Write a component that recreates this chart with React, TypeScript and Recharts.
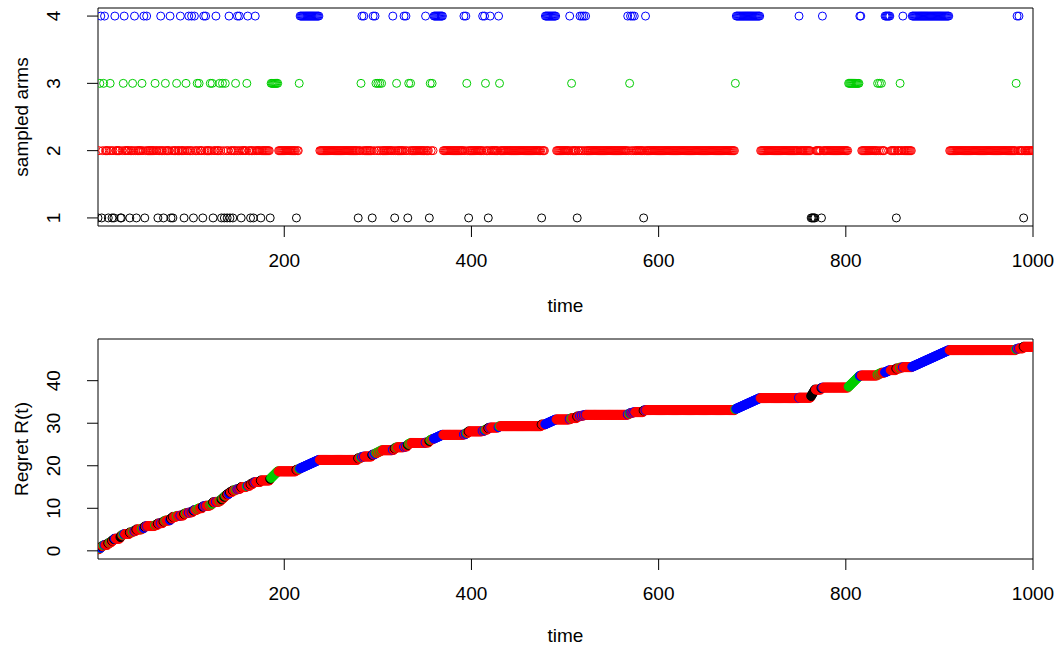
import { ReferenceArea, Scatter, ScatterChart, XAxis, YAxis } from 'recharts';

type Pull = number | [number, number];

const T_MAX = 1000;
const TIME_TICKS = [200, 400, 600, 800, 1000];
const ARM_TICKS = [1, 2, 3, 4];
const REGRET_TICKS = [0, 10, 20, 30, 40];

// R palette: black, red, green3, blue
const ARM_COLORS = ['#000000', '#ff0000', '#00cd00', '#0000ff'];
const ARM_GAP = [0.38, 0, 0.22, 0.1];

// times at which arms 1, 3 and 4 were pulled: single t or [from, to]. arm 2 gets the rest
const ARM1_PULLS: Pull[] = [
  1, 5, 12, 16, 18, 25, 26, 35, 42, 51, 65, 71, 79, 81, 93, 103, 113, 124,
  133, 136, 139, 142, 145, 154, 164, 167, 175, 185, 213,
  279, 294, 318, 332, 355, 397, 418, 475, 513, 584, [763, 767], 774, 854, 990,
];
const ARM3_PULLS: Pull[] = [
  3, 7, 14, 28, 38, 48, 62, 73, 85, 95, 107, 109, 121, 123, 131, 134, 137, 148, 160,
  [186, 193], 216, 282, 298, 300, 302, 304, 320, 333, 335, 356, 358, 395, 415, 430,
  507, 569, 682, [803, 814], 834, 836, 838, 858, 982,
];
const ARM4_PULLS: Pull[] = [
  4, 8, 19, 29, 40, 50, 53, 68, 78, 89, 98, 101, 104, 114, 116, 127, 141, 150, 152, 161, 169,
  [217, 237], 283, 285, 295, 297, 316, 328, 330, 351, [360, 369], 392, 394, 412, 414, 420, 429,
  [479, 490], 505, 516, 518, 520, 522, 567, 570, 572, 574, 586, [683, 708], 750, 775,
  815, 816, [842, 847], 861, [871, 910], 983, 985,
];

const FONT = '"Liberation Sans", Arial, sans-serif';
const FS = 19;

function buildPoints() {
  const arms: number[] = new Array(T_MAX + 1).fill(2);
  const lists: [number, Pull[]][] = [
    [1, ARM1_PULLS],
    [3, ARM3_PULLS],
    [4, ARM4_PULLS],
  ];
  for (const [arm, pulls] of lists) {
    for (const p of pulls) {
      const [a, b] = Array.isArray(p) ? p : [p, p];
      for (let t = a; t <= b; t++) arms[t] = arm;
    }
  }
  let regret = 0;
  const pts = [];
  for (let t = 1; t <= T_MAX; t++) {
    const arm = arms[t];
    regret += ARM_GAP[arm - 1];
    pts.push({ t, arm, regret, color: ARM_COLORS[arm - 1] });
  }
  return pts;
}

const points = buildPoints();

const XTick = (props: any) => {
  const { x, y, payload } = props;
  return (
    <text x={x} y={y + 21.5} textAnchor="middle" dominantBaseline="central"
      fontFamily={FONT} fontSize={FS} fill="#000">
      {payload.value}
    </text>
  );
};

const YTick = (props: any) => {
  const { x, y, payload } = props;
  const cx = x - 31;
  return (
    <text x={cx} y={y} textAnchor="middle" dominantBaseline="central"
      transform={`rotate(-90, ${cx}, ${y})`} fontFamily={FONT} fontSize={FS} fill="#000">
      {payload.value}
    </text>
  );
};

const xLabel = (offset: number) => (props: any) => {
  const vb = props.viewBox;
  return (
    <text x={vb.x + vb.width / 2} y={vb.y + offset} textAnchor="middle"
      fontFamily={FONT} fontSize={FS} fill="#000">
      time
    </text>
  );
};

const yLabel = (text: string) => (props: any) => {
  const vb = props.viewBox;
  const cx = 21;
  const cy = vb.y + vb.height / 2;
  return (
    <text x={cx} y={cy} textAnchor="middle" dominantBaseline="central"
      transform={`rotate(-90, ${cx}, ${cy})`} fontFamily={FONT} fontSize={FS} fill="#000">
      {text}
    </text>
  );
};

const hollow = (props: any) => (
  <circle cx={props.cx} cy={props.cy} r={4} fill="none" stroke={props.payload.color} strokeWidth={1} />
);

const filled = (props: any) => (
  <circle cx={props.cx} cy={props.cy} r={4.5} fill={props.payload.color} stroke={props.payload.color} strokeWidth={1} />
);

export default function App() {
  const armDomain = [0.88, 4.12];
  const regretDomain = [-1.92, 49.8];
  return (
    <div style={{ position: 'absolute', left: 0, top: 0, width: 1058, height: 649, background: '#fff' }}>
      <div style={{ position: 'absolute', left: 0, top: 0 }}>
        <ScatterChart width={1058} height={325} margin={{ top: 8, right: 25, bottom: 0, left: 0 }}>
          <XAxis type="number" dataKey="t" domain={[1, T_MAX]} ticks={TIME_TICKS} allowDataOverflow
            height={99} axisLine={false} tickSize={11} tickLine={{ stroke: '#000' }} tick={<XTick />}
            label={{ content: xLabel(86) }} />
          <YAxis type="number" dataKey="arm" domain={armDomain} ticks={ARM_TICKS} allowDataOverflow
            width={98} axisLine={false} tickSize={11} tickLine={{ stroke: '#000' }} tick={<YTick />}
            label={{ content: yLabel('sampled arms') }} />
          <ReferenceArea x1={1} x2={T_MAX} y1={armDomain[0]} y2={armDomain[1]}
            fill="none" stroke="#000" strokeWidth={1} />
          <Scatter data={points} dataKey="arm" shape={hollow} isAnimationActive={false} />
        </ScatterChart>
      </div>
      <div style={{ position: 'absolute', left: 0, top: 325 }}>
        <ScatterChart width={1058} height={324} margin={{ top: 14, right: 25, bottom: 0, left: 0 }}>
          <XAxis type="number" dataKey="t" domain={[1, T_MAX]} ticks={TIME_TICKS} allowDataOverflow
            height={90} axisLine={false} tickSize={11} tickLine={{ stroke: '#000' }} tick={<XTick />}
            label={{ content: xLabel(83) }} />
          <YAxis type="number" dataKey="regret" domain={regretDomain} ticks={REGRET_TICKS} allowDataOverflow
            width={98} axisLine={false} tickSize={11} tickLine={{ stroke: '#000' }} tick={<YTick />}
            label={{ content: yLabel('Regret R(t)') }} />
          <ReferenceArea x1={1} x2={T_MAX} y1={regretDomain[0]} y2={regretDomain[1]}
            fill="none" stroke="#000" strokeWidth={1} />
          <Scatter data={points} dataKey="regret" shape={filled} isAnimationActive={false} />
        </ScatterChart>
      </div>
    </div>
  );
}
